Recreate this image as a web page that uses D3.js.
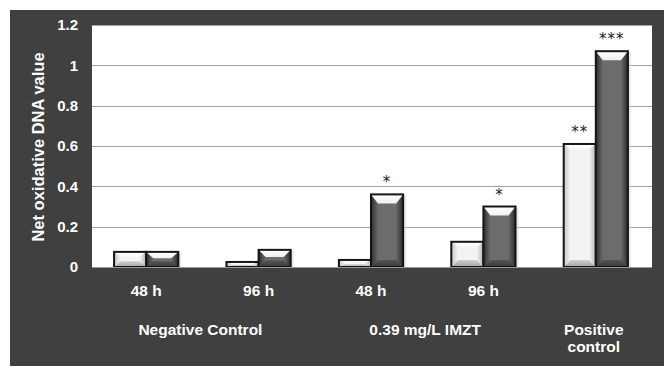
<!DOCTYPE html>
<html>
<head>
<meta charset="utf-8">
<script src="https://cdn.jsdelivr.net/npm/d3@7"></script>
<style>
  body { margin: 0; background: #fff; }
  svg { display: block; font-family: "Liberation Sans", Arial, sans-serif; }
</style>
</head>
<body>
<div id="chart"></div>
<script>
// data
var timeLabels = ["48 h", "96 h", "48 h", "96 h", ""];
var groupLabels = [
    { text: ["Negative Control"], from: 0, to: 1 },
    { text: ["0.39 mg/L IMZT"], from: 2, to: 3 },
    { text: ["Positive", "control"], from: 4, to: 4 }
];
var lightValues = [0.075, 0.025, 0.035, 0.125, 0.61];
var darkValues = [0.075, 0.085, 0.36, 0.30, 1.07];
var lightStars = ["", "", "", "", "**"];
var darkStars = ["", "", "*", "*", "***"];
var yTicks = [0, 0.2, 0.4, 0.6, 0.8, 1, 1.2];

var W = 664, H = 367;
var margin = { top: 25, right: 12, bottom: 100, left: 92 };

var svg = d3.select("#chart").append("svg")
    .attr("width", W)
    .attr("height", H);

var defs = svg.append("defs");
function grad(id, x2, y2, stops) {
    var g = defs.append("linearGradient").attr("id", id)
        .attr("x1", 0).attr("y1", 0).attr("x2", x2).attr("y2", y2);
    stops.forEach(function (s) {
        g.append("stop").attr("offset", s[0]).attr("stop-color", s[1]);
    });
}
grad("dkL", 1, 0, [[0, "#2e2e2e"], [1, "#6a6a6a"]]);
grad("dkR", 1, 0, [[0, "#6a6a6a"], [1, "#2a2a2a"]]);
grad("dkT", 0, 1, [[0, "#ffffff"], [1, "#f0f0f0"]]);
grad("dkB", 0, 1, [[0, "#555"], [1, "#383838"]]);
grad("ltL", 1, 0, [[0, "#c4c4c4"], [1, "#f6f6f6"]]);
grad("ltR", 1, 0, [[0, "#f6f6f6"], [1, "#b4b4b4"]]);
grad("ltT", 0, 1, [[0, "#ffffff"], [1, "#f8f8f8"]]);
grad("ltB", 0, 1, [[0, "#cfcfcf"], [1, "#a4a4a4"]]);

// dark frame
svg.append("rect")
    .attr("x", 10).attr("y", 10)
    .attr("width", W - 10).attr("height", H - 11)
    .attr("fill", "#404040");

var x0 = d3.scaleBand()
    .domain(d3.range(timeLabels.length))
    .range([margin.left - 2, W - margin.right])
    .padding(0);

var x1 = d3.scaleBand()
    .domain(["light", "dark"])
    .range([0, x0.bandwidth()])
    .paddingInner(0)
    .paddingOuter(0.75);

var y = d3.scaleLinear()
    .domain([0, 1.2])
    .range([H - margin.bottom, margin.top]);

// plot area
svg.append("rect")
    .attr("x", margin.left).attr("y", margin.top)
    .attr("width", W - margin.right - margin.left)
    .attr("height", y(0) - margin.top)
    .attr("fill", "#fff");

svg.append("g")
    .selectAll("line")
    .data(yTicks)
    .enter()
    .append("line")
    .attr("x1", margin.left)
    .attr("x2", W - margin.right)
    .attr("y1", function (d) { return Math.round(y(d)) + 0.5; })
    .attr("y2", function (d) { return Math.round(y(d)) + 0.5; })
    .attr("stroke", "#a0a0a0")
    .attr("stroke-width", 1.2);

// y axis labels
var yAxis = d3.axisLeft(y).tickValues(yTicks).tickSize(0).tickPadding(14)
    .tickFormat(function (d) { return d3.format("")(+d.toFixed(1)); });
var ya = svg.append("g")
    .attr("transform", "translate(" + margin.left + ",0)")
    .call(yAxis);
ya.select(".domain").remove();
ya.selectAll("text")
    .attr("fill", "#fff")
    .style("font-size", "15px")
    .style("font-weight", "bold")
    .style("font-family", "Liberation Sans, Arial, sans-serif");

svg.append("text")
    .attr("transform", "translate(38," + (y(0.6) + 1) + ") rotate(-90)")
    .attr("text-anchor", "middle")
    .attr("dy", "0.35em")
    .attr("fill", "#fff")
    .style("font-size", "16.5px")
    .style("font-weight", "bold")
    .text("Net oxidative DNA value");

// bevelled bars
function drawBar(g, bx, bw, v, kind) {
    var top = y(v), bot = y(0), h = bot - top;
    var dt = Math.min(kind === "dark" ? 9 : 5, h / 2.4);
    var db = Math.min(7, h / 2.6);
    var s = Math.min(7, bw / 4.5);
    var p = kind === "dark" ? "dk" : "lt";
    g.append("rect")
        .attr("x", bx + 2).attr("y", top + 1).attr("width", bw + 1).attr("height", h)
        .attr("fill", "#d8d8d8").attr("opacity", 0.6);
    g.append("rect")
        .attr("x", bx).attr("y", top).attr("width", bw).attr("height", h)
        .attr("fill", kind === "dark" ? "#6c6c6c" : "#f3f3f3");
    g.append("polygon")
        .attr("points", [[bx, top], [bx + s, top + dt], [bx + s, bot - db], [bx, bot]].join(" "))
        .attr("fill", "url(#" + p + "L)");
    g.append("polygon")
        .attr("points", [[bx + bw, top], [bx + bw - s, top + dt], [bx + bw - s, bot - db], [bx + bw, bot]].join(" "))
        .attr("fill", "url(#" + p + "R)");
    g.append("polygon")
        .attr("points", [[bx, top], [bx + bw, top], [bx + bw - s, top + dt], [bx + s, top + dt]].join(" "))
        .attr("fill", "url(#" + p + "T)");
    g.append("polygon")
        .attr("points", [[bx + s, bot - db], [bx + bw - s, bot - db], [bx + bw, bot], [bx, bot]].join(" "))
        .attr("fill", "url(#" + p + "B)");
    g.append("rect")
        .attr("x", bx).attr("y", top).attr("width", bw).attr("height", h)
        .attr("fill", "none")
        .attr("stroke", "#141414")
        .attr("stroke-width", 2);
}

var bars = svg.append("g");
timeLabels.forEach(function (t, i) {
    var gx = x0(i);
    drawBar(bars, gx + x1("light"), x1.bandwidth(), lightValues[i], "light");
    drawBar(bars, gx + x1("dark"), x1.bandwidth(), darkValues[i], "dark");
});

// significance stars
var starData = [];
timeLabels.forEach(function (t, i) {
    if (lightStars[i]) starData.push({ i: i, s: "light", v: lightValues[i], txt: lightStars[i] });
    if (darkStars[i]) starData.push({ i: i, s: "dark", v: darkValues[i], txt: darkStars[i] });
});
svg.append("g")
    .selectAll("text")
    .data(starData)
    .enter()
    .append("text")
    .attr("x", function (d) { return x0(d.i) + x1(d.s) + x1.bandwidth() / 2; })
    .attr("y", function (d) { return y(d.v) - 7; })
    .attr("text-anchor", "middle")
    .attr("fill", "#222")
    .style("font-family", "DejaVu Sans, sans-serif")
    .style("font-size", "15px")
    .style("letter-spacing", "1px")
    .text(function (d) { return d.txt; });

// x axis line
svg.append("line")
    .attr("x1", margin.left).attr("x2", W - margin.right)
    .attr("y1", y(0) + 0.5).attr("y2", y(0) + 0.5)
    .attr("stroke", "#999");

// time labels
svg.append("g")
    .selectAll("text")
    .data(timeLabels)
    .enter()
    .append("text")
    .attr("x", function (d, i) { return x0(i) + x0.bandwidth() / 2; })
    .attr("y", y(0) + 29)
    .attr("text-anchor", "middle")
    .attr("fill", "#fff")
    .style("font-size", "15.5px")
    .style("font-weight", "bold")
    .text(function (d) { return d; });

// group labels
var gl = svg.append("g")
    .selectAll("text")
    .data(groupLabels)
    .enter()
    .append("text")
    .attr("x", function (d) {
        return (x0(d.from) + x0(d.to) + x0.bandwidth()) / 2 - 2;
    })
    .attr("y", y(0) + 68)
    .attr("text-anchor", "middle")
    .attr("fill", "#fff")
    .style("font-size", "15.5px")
    .style("font-weight", "bold");
gl.selectAll("tspan")
    .data(function (d) { return d.text; })
    .enter()
    .append("tspan")
    .attr("x", function () { return d3.select(this.parentNode).attr("x"); })
    .attr("dy", function (d, i) { return i === 0 ? 0 : "1.12em"; })
    .text(function (d) { return d; });
</script>
</body>
</html>
